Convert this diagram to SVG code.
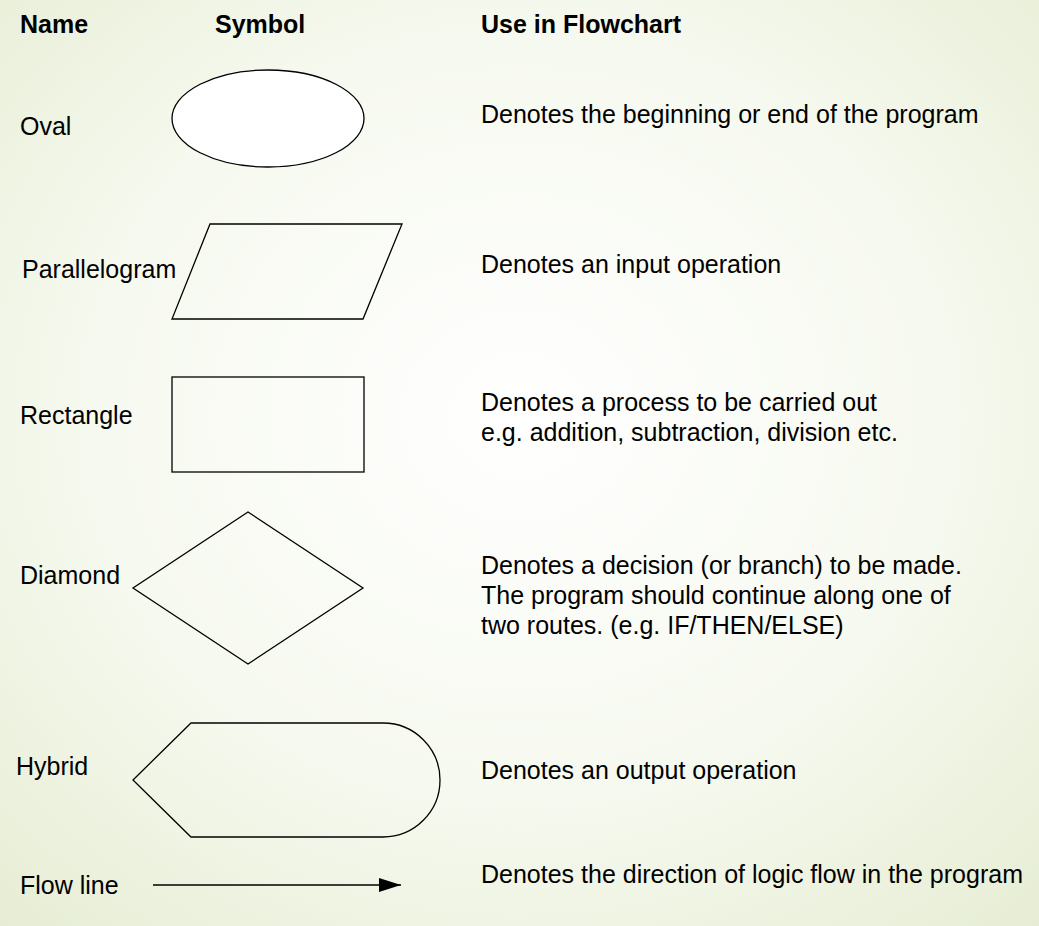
<svg xmlns="http://www.w3.org/2000/svg" width="1039" height="926" viewBox="0 0 1039 926">
<defs>
<radialGradient id="bg" cx="0.5" cy="0.45" r="0.75">
<stop offset="0" stop-color="#ffffff"/>
<stop offset="0.55" stop-color="#f6f9ef"/>
<stop offset="1" stop-color="#e6edd3"/>
</radialGradient>
<marker id="arr" markerWidth="22" markerHeight="14" refX="22" refY="7" orient="auto" markerUnits="userSpaceOnUse" viewBox="0 0 22 14">
<path d="M0,0 L22,7 L0,14 z" fill="#000"/>
</marker>
<style>
.t{font-family:"Liberation Sans",Arial,sans-serif;font-size:25px;fill:#000}
.h{font-family:"Liberation Sans",Arial,sans-serif;font-size:25px;font-weight:bold;fill:#000}
.s{fill:#fff;stroke:#000;stroke-width:1.3}
.o{fill:none;stroke:#000;stroke-width:1.3}
</style>
</defs>
<rect width="1039" height="926" fill="url(#bg)"/>
<g id="header">
<text class="h" x="20" y="33">Name</text>
<text class="h" x="215" y="33">Symbol</text>
<text class="h" x="481" y="33">Use in Flowchart</text>
</g>
<g id="oval">
<text class="t" x="20" y="135">Oval</text>
<ellipse class="s" cx="268" cy="118.5" rx="96" ry="48.5"/>
<text class="t" x="481" y="123">Denotes the beginning or end of the program</text>
</g>
<g id="parallelogram">
<text class="t" x="22" y="278">Parallelogram</text>
<polygon class="o" points="210,224 402,224 363,319 172,319"/>
<text class="t" x="481" y="273">Denotes an input operation</text>
</g>
<g id="rectangle">
<text class="t" x="20" y="424">Rectangle</text>
<rect class="o" x="172" y="377" width="192" height="95"/>
<text class="t" x="481" y="411">Denotes a process to be carried out</text>
<text class="t" x="481" y="441">e.g. addition, subtraction, division etc.</text>
</g>
<g id="diamond">
<text class="t" x="20" y="584">Diamond</text>
<polygon class="o" points="248,512 363,588 248,664 133,588"/>
<text class="t" x="481" y="574">Denotes a decision (or branch) to be made.</text>
<text class="t" x="481" y="604">The program should continue along one of</text>
<text class="t" x="481" y="634">two routes. (e.g. IF/THEN/ELSE)</text>
</g>
<g id="hybrid">
<text class="t" x="16" y="775">Hybrid</text>
<path class="o" d="M133,780 L191,723 L383,723 A57,57 0 0 1 383,837 L191,837 Z"/>
<text class="t" x="481" y="779">Denotes an output operation</text>
</g>
<g id="flowline">
<text class="t" x="20" y="894">Flow line</text>
<text class="t" x="481" y="883">Denotes the direction of logic flow in the program</text>
</g>
<g id="connectors">
<line x1="153" y1="885" x2="401" y2="885" stroke="#000" stroke-width="1.3" marker-end="url(#arr)"/>
</g>
</svg>
